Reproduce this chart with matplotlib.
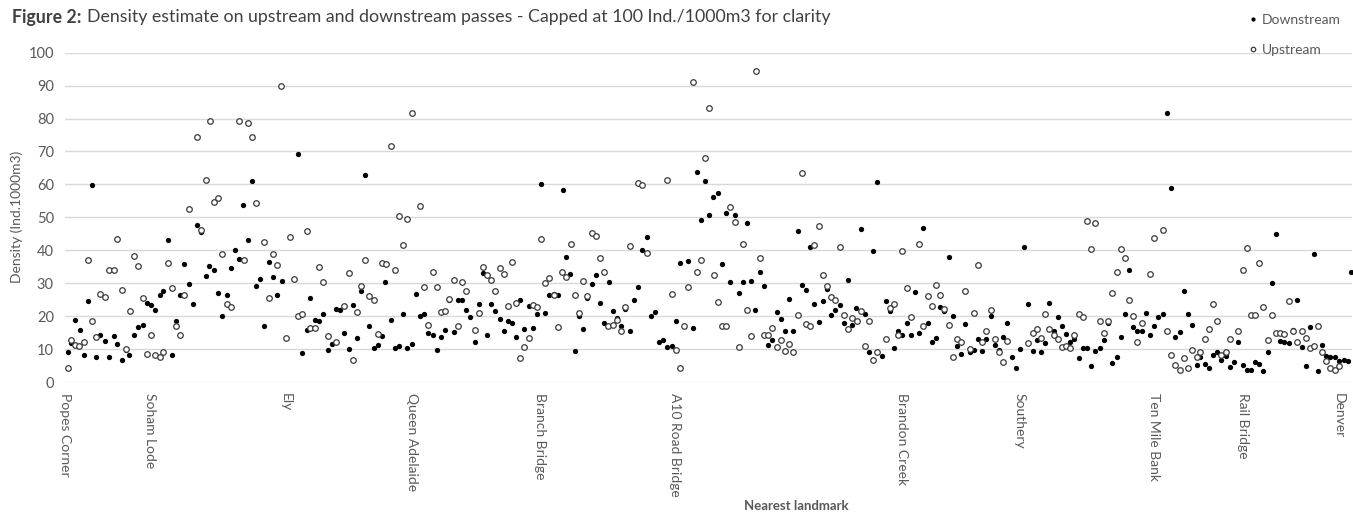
import matplotlib
matplotlib.use("Agg")
import matplotlib.pyplot as plt

plt.rcParams['font.family'] = ['Lato', 'DejaVu Sans']

# position along the route (chart units) and density (Ind./1000m3)
down_pos = [67.3, 71, 75, 79.3, 83.3, 87.7, 92, 96, 100, 104.3, 109, 113.3, 117, 121.3, 125.3, 129,
            134, 138, 142.3, 146.3, 150.3, 155, 159.3, 163, 167.3, 171.3, 176, 180, 184, 188.3, 192.3,
            197, 201, 205.3, 209, 213.3, 218, 222, 226.3, 230.3, 234.3, 239, 243, 247.3, 251.3, 255.3,
            260, 264, 268.3, 272.3, 276.3, 281.3, 297.3, 302, 306.3, 310, 314.3, 318.3, 322.3, 327.3,
            331.3, 335.7, 339.3, 343.7, 348.3, 352.3, 356.7, 360.7, 364.7, 369, 373.3, 377.3, 381.3, 385,
            390.3, 394.7, 398.7, 402.7, 406.7, 411.3, 415.3, 419.7, 423.7, 427.7, 432.3, 436.7, 440.7,
            444.7, 449, 453.7, 457.7, 461.7, 465.7, 469.7, 474.3, 478.7, 482.7, 486.7, 490.7, 495.3,
            499.7, 503.7, 507.7, 511.7, 515.7, 520.3, 524.3, 528.7, 532.7, 536.7, 541.3, 545.3, 549.3,
            553.7, 557.7, 562.7, 566.3, 570.3, 574.7, 578.7, 583.3, 587.3, 591.7, 595.7, 599.7, 604,
            608.7, 612.7, 616.7, 621, 625, 629.7, 633.7, 637.7, 641.7, 646.7, 650.7, 654.7, 658.7, 663,
            667.3, 671.7, 675.7, 679.7, 688.3, 692.7, 696.7, 700.7, 704.7, 708.7, 713.3, 717.7, 721.7,
            725.7, 730, 734.7, 738.7, 742.7, 746.7, 750.7, 755.3, 759.7, 763.7, 767.7, 772, 776.7, 781,
            784.7, 789, 793, 797.7, 801.7, 806, 810, 814, 818.7, 822.7, 827, 831, 835, 839.7, 844, 847.7,
            852, 856, 860.7, 865, 869, 873, 877, 881.7, 885.7, 890, 894, 898.3, 902.3, 907, 911, 915, 919,
            923, 927.7, 932, 936, 940, 944.3, 949, 953, 957, 961, 965.3, 969.7, 973.7, 978, 982, 986,
            990.7, 995, 999, 1003.3, 1007.3, 1012, 1016, 1020.3, 1024.3, 1028.3, 1033, 1037, 1041.3,
            1045.3, 1049.3, 1054, 1058, 1062, 1066, 1070, 1074.3, 1079, 1083, 1087, 1091.3, 1095.3, 1100,
            1104.3, 1108.3, 1112.3, 1116.7, 1121, 1125, 1129.3, 1133.3, 1137.3, 1142, 1146, 1150.3,
            1154.3, 1158.3, 1163, 1167.3, 1171, 1175.3, 1179.7, 1184, 1188, 1192, 1196.7, 1200.3, 1205,
            1209, 1213.3, 1217.3, 1221.3, 1225.7, 1230, 1234.3, 1238.3, 1242.7, 1247, 1251.3, 1255.3,
            1259.3, 1263.3, 1267.7, 1272, 1276.3, 1280.3, 1284.3, 1288.7, 1293.3, 1297.3, 1301.7, 1305.7,
            1309.7, 1314.3, 1318.3, 1322.3, 1326.3, 1330.3, 1335, 1339.3, 1343.7, 1348, 1351]
down_val = [9.2, 11.9, 18.8, 15.9, 8.3, 24.5, 59.8, 7.7, 14.3, 12.5, 7.7, 14.0, 11.4, 6.6, 9.8, 8.3,
            14.2, 16.6, 17.4, 24.0, 23.3, 21.8, 26.5, 27.7, 43.1, 8.1, 18.4, 26.5, 35.8, 29.7, 23.8,
            47.7, 45.5, 32.1, 35.1, 33.9, 27.0, 20.1, 26.5, 34.7, 40.2, 37.4, 53.9, 43.1, 60.9, 29.1,
            31.2, 17.0, 36.5, 31.9, 26.4, 30.6, 69.1, 8.8, 15.8, 25.5, 18.9, 18.4, 20.8, 9.7,
            11.6, 22.2, 21.8, 14.9, 10.0, 23.3, 13.5, 27.7, 63.0, 17.1, 10.4, 11.2, 14.0, 30.4,
            18.8, 10.2, 11.0, 20.6, 10.2, 11.4, 26.7, 20.1, 20.6, 15.0, 14.2, 9.7, 13.7,
            15.7, 24.8, 15.1, 24.8, 24.8, 21.8, 19.7, 12.2, 23.8, 33.1, 14.2, 23.8, 21.6,
            19.1, 15.6, 18.4, 18.0, 13.7, 25.0, 16.2, 23.1, 16.3, 20.8, 60.0, 21.1, 26.3,
            26.8, 26.3, 58.3, 38.1, 32.8, 9.3, 20.1, 16.2, 25.6, 29.9, 32.4, 24.0, 18.0,
            30.4, 21.6, 19.5, 17.1, 22.3, 15.4, 25.0, 29.0, 40.1, 43.9, 19.9, 21.4, 12.2, 12.8,
            10.7, 10.9, 18.5, 36.1, 36.6, 16.4, 63.7, 49.3, 60.9, 50.7, 56.3, 57.3, 35.9,
            51.2, 30.4, 50.6, 27.0, 30.4, 48.4, 30.6, 22.0, 33.3, 29.2, 11.1, 12.7, 21.4, 19.1,
            15.4, 25.2, 15.6, 45.8, 29.5, 28.0, 40.9, 23.8, 18.3, 24.7, 28.2, 20.2, 21.9, 23.3, 17.8, 31.0,
            17.2, 22.5, 46.4, 20.8, 9.2, 39.8, 60.7, 8.0, 24.5, 21.7, 10.4, 15.6, 14.4, 18.0, 14.3, 27.3, 14.8,
            46.8, 17.8, 12.2, 13.4, 22.9, 21.6, 38.0, 19.9, 10.9, 8.5, 17.6, 9.0, 9.7, 13.2, 9.5, 13.0,
            19.9, 11.2, 9.7, 13.7, 17.8, 7.5, 4.3, 10.0, 40.9, 23.8, 9.4, 12.7, 9.2,
            11.9, 24.0, 15.6, 19.7, 16.9, 14.5, 12.0, 13.2, 7.3, 10.3, 10.3, 4.8, 9.5, 10.4,
            12.7, 17.9, 5.9, 7.6, 13.7, 20.6, 34.1, 16.6, 15.4, 15.4, 21.1, 14.4,
            17.1, 19.7, 20.6, 81.6, 59.0, 13.7, 15.1, 27.7, 20.6, 17.3, 5.3, 7.5, 5.6,
            4.3, 8.3, 9.1, 6.8, 8.0, 4.7, 6.2, 12.2, 5.1, 3.7, 3.7, 6.0,
            5.5, 3.3, 9.2, 30.2, 45.0, 12.5, 12.0, 11.8, 15.8, 25.0, 10.7, 4.8,
            16.6, 38.8, 3.3, 11.2, 7.8, 7.7, 7.5, 6.5, 6.8, 6.3, 33.5]

up_pos = [67.3, 71, 75, 79, 83.3, 87.7, 92, 96, 100, 104.3, 109, 113.3, 117, 121.3, 125.3, 129.3,
          134, 138, 142.3, 146.3, 150.3, 154.7, 159.3, 163, 167.3, 171.3, 176, 180, 184, 188.3,
          197, 201, 205.3, 209.3, 213.3, 218, 222, 226.3, 230.3, 239, 243.3, 247.3, 251.3, 255.3,
          264, 268.3, 272.3, 276.3, 281, 285.3, 289.3, 293.3, 297.3, 302, 306.3, 310, 314.3, 318.3,
          322.3, 327.3, 335.3, 343.7, 348.3, 352.3, 356.7, 360.7, 364.7, 369, 373.3, 377.3, 381.3,
          385.7, 390.7, 394.7, 398.7, 402.7, 406.7, 411.3, 419.3, 423.7, 427.7, 432.3, 436.7, 440.7,
          444.7, 449, 453.7, 457.7, 461.7, 465.7, 474.3, 478.7, 482.3, 486.7, 490.7, 495.3, 499.7,
          503.7, 507.7, 511.7, 515.7, 520.3, 524.3, 528.7, 532.7, 536.7, 541.3, 545.3, 549.3, 553.7,
          557.7, 562.3, 566.3, 570.7, 574.7, 578.7, 583.3, 587.3, 591.7, 595.7, 599.7, 604.3, 608.3,
          612.7, 616.7, 621, 625, 629.7, 637.7, 641.7, 646.7, 667.3, 671.7, 675.7, 679.7, 684, 688.3,
          692.7, 696.7, 700.7, 704.7, 709, 713.7, 717.7, 721.7, 725.7, 730, 734.7, 738.7, 742.7, 746.7,
          750.7, 755.7, 760, 764, 768, 772, 776.7, 781, 784.7, 789, 793, 797.7, 801.7, 806, 810, 814,
          818.7, 822.7, 827, 831, 835, 839.7, 844, 847.7, 852, 856.7, 860.7, 865, 869, 873, 877, 885.7,
          890, 894, 898.3, 902.3, 907, 911, 919, 923, 927.7, 932, 936, 940.3, 944.3, 949, 953, 957, 961,
          965.3, 969.7, 973.7, 978, 982, 986, 990.7, 995, 999, 1003.3, 1007.3, 1028.3, 1033, 1037,
          1041.3, 1045.3, 1049.3, 1054, 1058, 1062, 1066, 1070, 1074.3, 1079, 1083, 1087, 1091.3,
          1095.3, 1100, 1104.3, 1108.3, 1112.3, 1116.7, 1121, 1125, 1129.3, 1133.3, 1137.3, 1142,
          1150.3, 1154.3, 1163, 1167.3, 1171, 1175.3, 1179.7, 1184, 1188, 1192, 1196.7, 1200.3, 1205,
          1209, 1213.3, 1217.3, 1221.3, 1225.7, 1230.3, 1238.3, 1242.7, 1247, 1251.3, 1255.3, 1259.3,
          1263.3, 1267.7, 1272, 1276.3, 1280.3, 1284.3, 1288.7, 1293.3, 1297.3, 1301.7, 1305.7,
          1309.7, 1314.3, 1318.3, 1322.3, 1326.3, 1330.3, 1335, 1339.3]
up_val = [4.4, 12.7, 11.1, 10.9, 12.2, 37.1, 18.6, 13.8, 26.8, 25.9, 34.1, 34.1, 43.5, 28.0, 10.1, 21.5,
          38.3, 35.1, 25.5, 8.6, 14.3, 8.1, 7.5, 9.2, 36.1, 28.5, 16.9, 14.2, 26.5, 52.4,
          74.3, 46.1, 61.2, 79.2, 54.6, 56.0, 38.8, 23.8, 22.9, 79.4, 37.1, 78.7, 74.3, 54.4,
          42.6, 25.5, 38.8, 35.5, 90.0, 13.4, 44.0, 31.4, 20.0, 20.7, 45.8, 16.5, 16.3, 34.9,
          30.3, 14.0, 12.2, 23.1, 33.2, 6.6, 21.3, 29.3, 37.1, 26.2, 25.0, 14.5, 36.1,
          35.9, 71.8, 33.9, 50.4, 41.5, 49.4, 81.6, 53.4, 29.0, 17.2, 33.5, 29.0, 21.3,
          21.6, 25.2, 31.0, 17.0, 30.5, 27.7, 15.7, 20.9, 34.9, 32.6, 31.0, 27.7, 34.7,
          32.8, 23.1, 36.4, 24.0, 7.3, 10.7, 13.3, 23.5, 22.9, 43.5, 30.2, 31.6, 26.3,
          16.6, 33.5, 31.8, 41.9, 26.5, 21.0, 30.6, 26.0, 45.2, 44.3, 37.6, 33.3, 16.9,
          17.3, 18.7, 15.4, 22.9, 41.2, 60.5, 59.8, 39.1, 61.4, 26.7, 9.7, 4.1, 16.9, 29.0,
          91.0, 33.3, 37.1, 68.1, 83.3, 32.4, 24.3, 17.0, 17.0, 53.1, 48.7, 10.7, 42.0, 21.8,
          14.0, 94.3, 37.8, 14.4, 14.2, 16.4, 10.7, 12.8, 9.5, 11.6, 9.1, 20.4, 63.4, 17.6, 17.1, 41.6,
          47.4, 32.4, 29.1, 25.8, 24.8, 40.9, 20.4, 16.2, 19.3, 18.4, 21.6, 10.9, 18.6, 6.8, 9.1, 13.0,
          22.5, 23.8, 14.2, 39.8, 28.5, 19.7, 41.9, 17.0, 26.0, 23.1, 29.5, 26.4, 22.2, 17.4, 7.5, 13.2, 12.0,
          27.6, 10.0, 20.9, 35.6, 12.0, 15.4, 21.8, 13.0, 9.0, 6.1, 12.5, 11.9, 14.8, 16.2,
          13.5, 20.8, 16.2, 14.3, 13.0, 10.7, 11.0, 10.4, 14.4, 20.7, 19.7, 48.9, 40.3,
          48.2, 18.6, 14.8, 18.6, 27.0, 33.3, 40.3, 37.6, 25.0, 19.9, 12.2, 17.8,
          32.8, 43.8, 46.2, 15.4, 8.3, 5.3, 3.5, 7.3, 4.1, 9.7, 7.5, 9.2, 13.2,
          16.1, 23.8, 18.6, 8.3, 9.2, 13.2, 15.4, 33.9, 40.7, 20.2, 20.2, 36.1,
          22.9, 12.7, 20.2, 14.8, 14.8, 14.5, 24.7, 15.4, 12.0, 15.4, 13.3,
          10.4, 10.9, 16.9, 9.0, 6.5, 4.1, 3.6, 4.8]

landmarks = ['Popes Corner', 'Soham Lode', 'Ely', 'Queen Adelaide', 'Branch Bridge', 'A10 Road Bridge',
             'Brandon Creek', 'Southery', 'Ten Mile Bank', 'Rail Bridge', 'Denver']
landmark_pos = [64.7, 149.6, 285.7, 411.6, 540, 675, 902, 1019, 1154, 1243, 1339]

grey = '#595959'

fig = plt.figure(figsize=(13.53, 5.13), dpi=100)
ax = fig.add_axes([65 / 1353, 1 - 382 / 513, 1287 / 1353, (382 - 52.7) / 513])

ax.plot(down_pos, down_val, 'o', color='black', ms=3.8, mew=0, label='Downstream', zorder=3)
ax.plot(up_pos, up_val, 'o', mfc='white', mec='#3a3a3a', ms=4.0, mew=0.9, label='Upstream', zorder=4)

ax.set_xlim(65, 1352)
ax.set_ylim(0, 100)
ax.set_yticks(range(0, 101, 10))
ax.grid(axis='y', color='#d9d9d9', lw=1)
ax.set_axisbelow(True)
for s in ax.spines.values():
    s.set_visible(False)
ax.tick_params(axis='y', length=0, labelsize=10.5, labelcolor=grey, pad=8)
ax.set_xticks(landmark_pos)
ax.set_xticklabels(landmarks, rotation=-90, va='top', ha='center')
ax.tick_params(axis='x', length=0, labelsize=10, labelcolor=grey, pad=8)

fig.text(17 / 1353, 1 - 217 / 513, 'Density (Ind.1000m3)', fontsize=10, color=grey,
         rotation=90, ha='center', va='center')
fig.text(796 / 1353, 1 - 506 / 513, 'Nearest landmark', fontsize=9.5, fontweight='bold',
         color=grey, ha='center', va='center')
fig.text(12 / 1353, 1 - 17 / 513, 'Figure 2:', fontsize=12.8, fontweight='bold',
         color='#404040', ha='left', va='center')
fig.text(87 / 1353, 1 - 17 / 513,
         'Density estimate on upstream and downstream passes - Capped at 100 Ind./1000m3 for clarity',
         fontsize=12.8, color='#404040', ha='left', va='center')

fig.legend(loc='upper right', bbox_to_anchor=(1.0, 1 - 1 / 513), frameon=False, fontsize=10,
           labelcolor=grey, handletextpad=0.1, labelspacing=1.3, markerscale=0.8, handlelength=1.0)

fig.savefig('out.png', dpi=100)
